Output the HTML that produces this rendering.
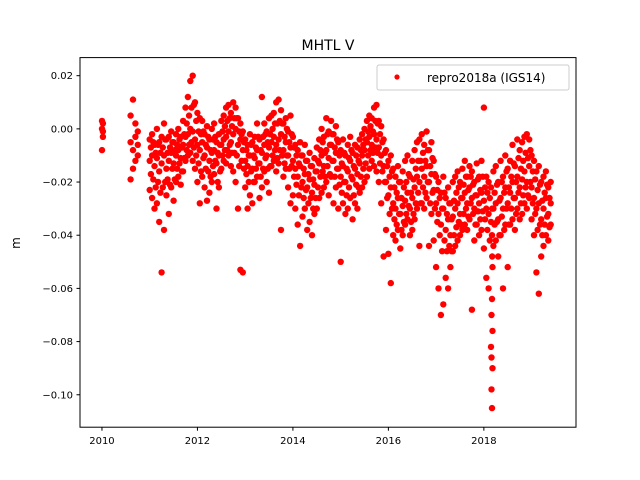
<!DOCTYPE html>
<html><head><meta charset="utf-8"><style>
body{margin:0;background:#fff;}
svg{display:block;font-family:"DejaVu Sans","Liberation Sans",sans-serif;}
</style></head><body>
<svg id="chart" width="640" height="480">
<rect x="0" y="0" width="640" height="480" fill="#fff"/>
<text x="328" y="50" font-size="14" text-anchor="middle">MHTL V</text>
<text x="20" y="243" font-size="12" text-anchor="middle" transform="rotate(-90 20 243)">m</text>
<g id="marks"></g>
<g id="axes"></g>
<rect x="80" y="57.6" width="496" height="369.6" fill="none" stroke="#000" stroke-width="1"/>
<g>
<rect x="377" y="65" width="192" height="25" rx="2" fill="#fff" fill-opacity="0.8" stroke="#ccc"/>
<circle cx="397" cy="77" r="2.6" fill="red"/>
<text x="427" y="82" font-size="12">repro2018a (IGS14)</text>
</g>
</svg>
<script>
const xTicks=[2010,2012,2014,2016,2018];
const yTicks=[0.02,0.00,-0.02,-0.04,-0.06,-0.08,-0.10];
const yTickLabels=["0.02","0.00","−0.02","−0.04","−0.06","−0.08","−0.10"];
const dates=[2010.00,2010.02,2010.60,2010.65,2010.70,2010.75,
2011.00,2011.05,2011.10,2011.15,2011.20,2011.25,2011.30,2011.35,2011.40,2011.45,2011.50,2011.55,2011.60,2011.65,2011.70,2011.75,2011.80,2011.85,2011.90,2011.95,
2012.00,2012.05,2012.10,2012.15,2012.20,2012.25,2012.30,2012.35,2012.40,2012.45,2012.50,2012.55,2012.60,2012.65,2012.70,2012.75,2012.80,2012.85,2012.90,2012.95,
2013.00,2013.05,2013.10,2013.15,2013.20,2013.25,2013.30,2013.35,2013.40,2013.45,2013.50,2013.55,2013.60,2013.65,2013.70,2013.75,2013.80,2013.85,2013.90,2013.95,
2014.00,2014.05,2014.10,2014.15,2014.20,2014.25,2014.30,2014.35,2014.40,2014.45,2014.50,2014.55,2014.60,2014.65,2014.70,2014.75,2014.80,2014.85,2014.90,2014.95,
2015.00,2015.05,2015.10,2015.15,2015.20,2015.25,2015.30,2015.35,2015.40,2015.45,2015.50,2015.55,2015.60,2015.65,2015.70,2015.75,2015.80,2015.85,2015.90,2015.95,
2016.00,2016.05,2016.10,2016.15,2016.20,2016.25,2016.30,2016.35,2016.40,2016.45,2016.50,2016.55,2016.60,2016.65,2016.70,2016.75,2016.80,2016.85,2016.90,2016.95,
2017.00,2017.05,2017.10,2017.15,2017.20,2017.25,2017.30,2017.35,2017.40,2017.45,2017.50,2017.55,2017.60,2017.65,2017.70,2017.75,2017.80,2017.85,2017.90,2017.95,
2018.00,2018.05,2018.10,2018.15,2018.16,2018.17,2018.18,2018.20,2018.25,2018.30,2018.35,2018.40,2018.45,2018.50,2018.55,2018.60,2018.65,2018.70,2018.75,2018.80,2018.85,2018.90,2018.95,
2019.00,2019.05,2019.10,2019.15,2019.20,2019.25,2019.30,2019.35,2019.40];
const valuesMidMm=[3,2,-5,-8,-3,-6,
-12,-10,-14,-11,-16,-13,-10,-15,-12,-9,-13,-10,-8,-11,-6,-3,-2,0,-1,-4,
-6,-8,-5,-10,-7,-12,-9,-8,-13,-10,-6,-4,-3,-1,-5,-2,0,-6,-4,-8,
-12,-14,-10,-15,-11,-8,-13,-9,-6,-10,-7,-5,-3,-6,-4,-2,-8,-5,-10,-7,
-12,-15,-18,-14,-20,-17,-22,-19,-24,-21,-16,-13,-10,-14,-8,-11,-6,-12,-9,-15,
-18,-14,-20,-16,-12,-19,-15,-17,-13,-10,-8,-5,-3,-6,-2,-4,-7,-10,-14,-20,
-25,-22,-28,-30,-26,-32,-29,-27,-24,-30,-26,-22,-18,-20,-15,-18,-14,-20,-17,-23,
-28,-32,-36,-30,-38,-34,-40,-33,-30,-28,-32,-26,-24,-28,-22,-26,-30,-25,-28,-24,
-27,-30,-32,-35,-70,-40,-52,-30,-28,-34,-26,-30,-22,-28,-24,-20,-26,-18,-22,-19,-16,-20,-14,
-22,-26,-30,-28,-34,-30,-26,-32,-28];
const valuesHighMm=[0,-1,5,11,2,-1,
-4,-2,-6,0,-5,-3,2,-4,-3,-1,-5,-2,0,-3,3,8,12,18,20,10,
6,4,3,-2,1,-4,0,2,-5,-2,3,5,8,9,6,10,8,4,2,-1,
-4,-6,-2,-5,-3,2,-4,12,2,-1,4,5,6,10,11,7,2,4,-1,5,
-3,-6,-8,-5,-10,-6,-12,-9,-14,-11,-7,-4,0,-3,4,-1,3,-2,1,-5,
-8,-4,-10,-6,-3,-9,-6,-7,-4,-2,0,3,5,4,8,9,3,1,-4,-8,
-12,-10,-15,-18,-14,-20,-16,-12,-10,-18,-12,-8,-5,-4,-2,-6,-1,-8,-5,-12,
-18,-20,-24,-18,-26,-22,-28,-20,-18,-16,-20,-15,-12,-18,-14,-16,-20,-13,-18,-12,
8,-18,-20,-22,-86,-64,-76,-16,-14,-20,-12,-18,-10,-15,-12,-6,-14,-4,-8,-5,-3,-2,-4,
-10,-12,-16,-14,-20,-18,-16,-22,-20];
const valuesLowMm=[-8,-3,-19,-15,-12,-10,
-23,-26,-30,-28,-35,-54,-38,-25,-32,-22,-27,-20,-18,-21,-16,-12,-10,-9,-12,-15,
-20,-28,-18,-22,-27,-24,-20,-17,-30,-22,-15,-12,-13,-10,-14,-16,-20,-30,-53,-54,
-22,-30,-25,-28,-20,-18,-26,-22,-16,-20,-24,-14,-12,-16,-13,-38,-18,-15,-22,-28,
-25,-30,-36,-44,-33,-30,-38,-35,-40,-32,-30,-26,-24,-22,-20,-25,-18,-28,-22,-30,
-50,-28,-32,-30,-26,-34,-28,-30,-24,-22,-20,-18,-15,-12,-14,-16,-20,-28,-48,-38,
-47,-58,-40,-42,-38,-45,-40,-36,-34,-40,-38,-34,-30,-44,-28,-30,-26,-44,-32,-42,
-52,-60,-70,-66,-56,-60,-52,-46,-44,-42,-40,-38,-36,-38,-34,-68,-42,-36,-40,-38,
-45,-56,-60,-82,-98,-105,-90,-44,-42,-48,-40,-60,-36,-52,-36,-34,-38,-30,-34,-32,-28,-30,-26,
-34,-40,-54,-62,-48,-44,-40,-42,-36];
const datesB=[2011.025,2011.075,2011.125,2011.175,2011.225,2011.275,2011.325,2011.375,2011.425,2011.475,2011.525,2011.575,2011.625,2011.675,2011.725,2011.775,2011.825,2011.875,2011.925,2011.975,
2012.025,2012.075,2012.125,2012.175,2012.225,2012.275,2012.325,2012.375,2012.425,2012.475,2012.525,2012.575,2012.625,2012.675,2012.725,2012.775,2012.825,2012.875,2012.925,2012.975,
2013.025,2013.075,2013.125,2013.175,2013.225,2013.275,2013.325,2013.375,2013.425,2013.475,2013.525,2013.575,2013.625,2013.675,2013.725,2013.775,2013.825,2013.875,2013.925,2013.975,
2014.025,2014.075,2014.125,2014.175,2014.225,2014.275,2014.325,2014.375,2014.425,2014.475,2014.525,2014.575,2014.625,2014.675,2014.725,2014.775,2014.825,2014.875,2014.925,2014.975,
2015.025,2015.075,2015.125,2015.175,2015.225,2015.275,2015.325,2015.375,2015.425,2015.475,2015.525,2015.575,2015.625,2015.675,2015.725,2015.775,2015.825,2015.875,2015.925,2015.975,
2016.025,2016.075,2016.125,2016.175,2016.225,2016.275,2016.325,2016.375,2016.425,2016.475,2016.525,2016.575,2016.625,2016.675,2016.725,2016.775,2016.825,2016.875,2016.925,2016.975,
2017.025,2017.075,2017.125,2017.175,2017.225,2017.275,2017.325,2017.375,2017.425,2017.475,2017.525,2017.575,2017.625,2017.675,2017.725,2017.775,2017.825,2017.875,2017.925,2017.975,
2018.025,2018.075,2018.125,2018.175,2018.225,2018.275,2018.325,2018.375,2018.425,2018.475,2018.525,2018.575,2018.625,2018.675,2018.725,2018.775,2018.825,2018.875,2018.925,2018.975,
2019.025,2019.075,2019.125,2019.175,2019.225,2019.275,2019.325,2019.375];
const valuesUpperBMm=[-7,-5,-9,-6,-9,-7,-4,-9,-7,-5,-8,-6,-4,-7,-2,2,5,8,9,3,
-1,-2,-1,-6,-3,-8,-4,-3,-9,-6,-1,1,3,4,1,4,4,-1,-2,-5,
-8,-10,-6,-10,-7,-3,-8,-3,-2,-5,-2,0,2,2,3,2,-3,0,-5,-2,
-7,-10,-13,-10,-15,-12,-17,-14,-19,-16,-12,-8,-5,-9,-2,-6,-2,-7,-4,-10,
-13,-9,-15,-11,-8,-14,-10,-12,-8,-6,-4,-1,1,-1,3,2,-2,-5,-9,-14,
-18,-16,-22,-24,-20,-26,-22,-20,-17,-24,-19,-15,-12,-12,-9,-12,-8,-14,-11,-17,
-23,-26,-30,-24,-32,-28,-34,-27,-24,-22,-26,-21,-18,-23,-18,-21,-25,-19,-23,-18,
-22,-24,-26,-30,-24,-21,-27,-20,-24,-16,-22,-18,-13,-20,-11,-15,-12,-9,-11,-8,
-16,-19,-23,-21,-27,-24,-21,-26];
const valuesLowerBMm=[-17,-19,-22,-20,-24,-22,-20,-19,-21,-15,-19,-15,-13,-16,-11,-8,-6,-5,-7,-10,
-13,-16,-11,-15,-16,-18,-14,-12,-20,-16,-10,-8,-8,-6,-9,-9,-10,-14,-12,-15,
-17,-20,-16,-20,-15,-13,-18,-15,-11,-15,-14,-10,-8,-11,-8,-10,-13,-10,-15,-14,
-18,-21,-25,-22,-26,-23,-28,-26,-30,-26,-22,-18,-16,-18,-14,-17,-12,-18,-15,-21,
-24,-20,-25,-22,-18,-25,-21,-22,-18,-15,-13,-10,-8,-9,-7,-9,-13,-16,-20,-26,
-32,-30,-34,-36,-32,-38,-35,-32,-29,-35,-32,-28,-24,-28,-22,-24,-20,-28,-24,-30,
-35,-40,-46,-42,-46,-44,-46,-40,-37,-35,-36,-32,-30,-33,-28,-32,-36,-31,-34,-31,
-34,-38,-42,-48,-36,-35,-40,-33,-38,-30,-36,-30,-26,-32,-24,-28,-25,-22,-25,-20,
-28,-32,-38,-36,-40,-36,-33,-37];

const X0=2009.54,X1=2019.93,Y0=-0.1122,Y1=0.0268;
const L=80,R=576,T=57.6,B=427.2;
function xs(v){return L+(v-X0)/(X1-X0)*(R-L);}
function ys(v){return B-(v-Y0)/(Y1-Y0)*(B-T);}
const NS="http://www.w3.org/2000/svg";
const marks=document.getElementById('marks');
const axes=document.getElementById('axes');
function plotSeries(ds,series){
  for(let i=0;i<ds.length;i++){
    const c=document.createElementNS(NS,'circle');
    c.setAttribute('cx',xs(ds[i]).toFixed(1));
    c.setAttribute('cy',ys(series[i]/1000).toFixed(1));
    c.setAttribute('r','3.2');
    c.setAttribute('fill','red');
    
    
    marks.appendChild(c);
  }
}
plotSeries(dates,valuesMidMm);
plotSeries(dates,valuesHighMm);
plotSeries(dates,valuesLowMm);
plotSeries(datesB,valuesUpperBMm);
plotSeries(datesB,valuesLowerBMm);
xTicks.forEach(function(t){
  const x=xs(t);
  const l=document.createElementNS(NS,'line');
  l.setAttribute('x1',x);l.setAttribute('x2',x);l.setAttribute('y1',B);l.setAttribute('y2',B+3.5);
  l.setAttribute('stroke','#000');
  
  
  axes.appendChild(l);
  const tx=document.createElementNS(NS,'text');
  tx.setAttribute('x',x);tx.setAttribute('y',B+17);tx.setAttribute('font-size','10');tx.setAttribute('text-anchor','middle');
  tx.textContent=String(t);
  
  
  axes.appendChild(tx);
});
yTicks.forEach(function(t,i){
  const y=ys(t);
  const l=document.createElementNS(NS,'line');
  l.setAttribute('x1',L-3.5);l.setAttribute('x2',L);l.setAttribute('y1',y);l.setAttribute('y2',y);
  l.setAttribute('stroke','#000');
  
  
  axes.appendChild(l);
  const tx=document.createElementNS(NS,'text');
  tx.setAttribute('x',L-7);tx.setAttribute('y',y+3.5);tx.setAttribute('font-size','10');tx.setAttribute('text-anchor','end');
  tx.textContent=yTickLabels[i];
  
  
  axes.appendChild(tx);
});
</script>
</body></html>
